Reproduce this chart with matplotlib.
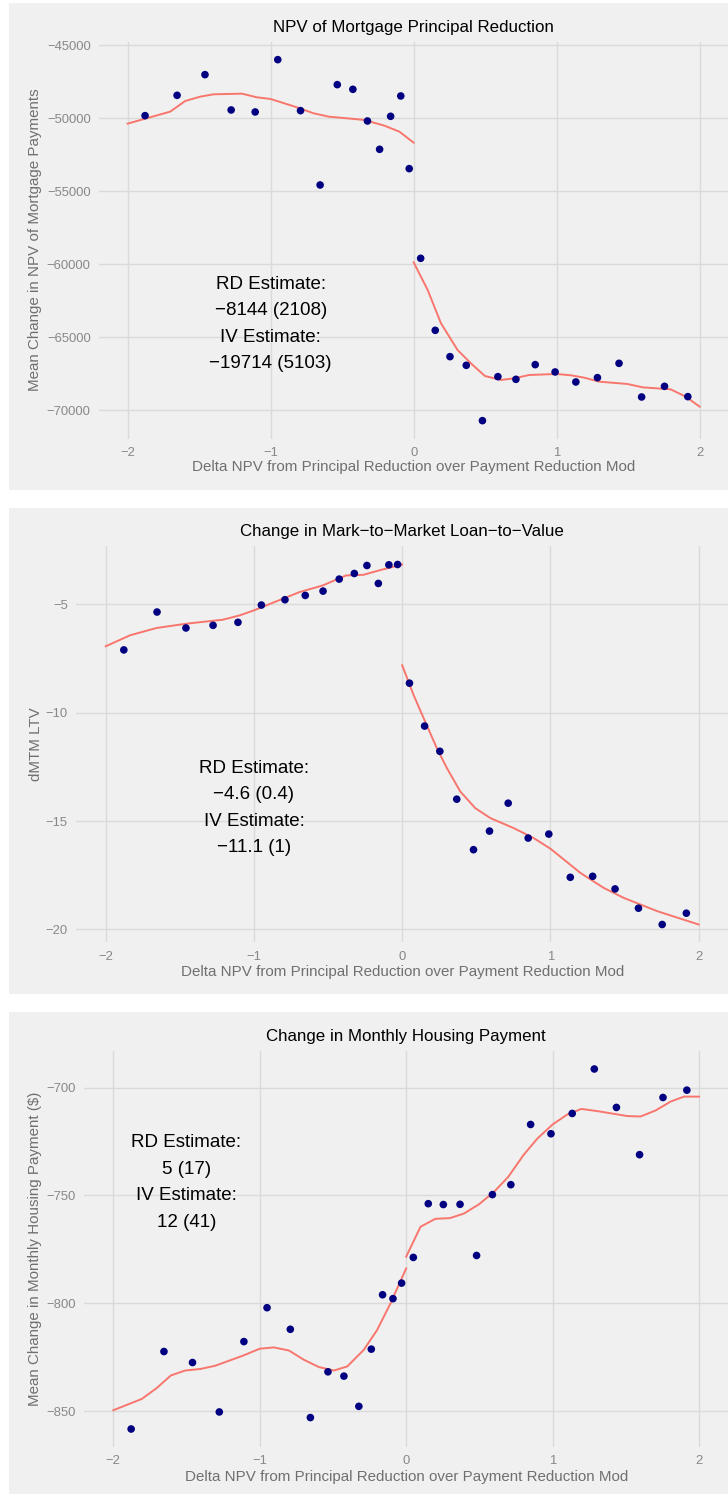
import matplotlib
matplotlib.use("Agg")
import matplotlib.pyplot as plt
from matplotlib.patches import Rectangle

plt.rcParams['font.family'] = ['Liberation Sans', 'DejaVu Sans']

# ---------------- data ----------------
bin_x = [-1.878, -1.654, -1.459, -1.276, -1.108, -0.950, -0.791, -0.654, -0.534, -0.425,
         -0.323, -0.238, -0.161, -0.090, -0.031,
         0.049, 0.151, 0.254, 0.368, 0.481, 0.589, 0.715, 0.850, 0.989, 1.134,
         1.285, 1.436, 1.594, 1.754, 1.917]

npv_y = [-49817, -48425, -47009, -49429, -49566, -45982, -49475, -54566, -47694, -48014,
         -50183, -52123, -49863, -48470, -53447,
         -59589, -64521, -66324, -66918, -70708, -67694, -67877, -66872, -67374, -68059,
         -67763, -66781, -69087, -68356, -69064]
npv_fit_left_x = [-2.0, -1.702, -1.597, -1.492, -1.399, -1.200, -1.096, -1.0, -0.816, -0.699,
                  -0.594, -0.466, -0.345, -0.205, -0.100, 0.0]
npv_fit_left_y = [-50365, -49543, -48813, -48516, -48356, -48311, -48562, -48676, -49247, -49658,
                  -49886, -50000, -50114, -50502, -50913, -51667]
npv_fit_right_x = [0.0, 0.098, 0.191, 0.307, 0.400, 0.498, 0.610, 0.703, 0.808, 1.0, 1.1,
                   1.192, 1.297, 1.495, 1.6, 1.797, 1.902, 2.0]
npv_fit_right_y = [-59863, -61758, -64041, -65868, -66781, -67648, -67922, -67808, -67580, -67511,
                   -67603, -67763, -68037, -68196, -68425, -68562, -69064, -69749]

ltv_y = [-7.101, -5.353, -6.089, -5.966, -5.828, -5.031, -4.785, -4.586, -4.387, -3.834,
         -3.574, -3.206, -4.034, -3.175, -3.160,
         -8.635, -10.614, -11.779, -13.988, -16.319, -15.460, -14.172, -15.782, -15.598, -17.592,
         -17.546, -18.129, -19.018, -19.770, -19.248]
ltv_fit_left_x = [-2.0, -1.836, -1.657, -1.455, -1.209, -1.096, -1.0, -0.872, -0.693, -0.536,
                  -0.379, -0.261, -0.149, 0.0]
ltv_fit_left_y = [-6.933, -6.426, -6.089, -5.890, -5.706, -5.506, -5.276, -4.923, -4.433, -4.126,
                  -3.666, -3.635, -3.420, -3.160]
ltv_fit_right_x = [0.0, 0.077, 0.155, 0.234, 0.302, 0.392, 0.493, 0.595, 0.752, 0.887, 1.0,
                   1.203, 1.360, 1.495, 1.721, 2.0]
ltv_fit_right_y = [-7.807, -9.187, -10.414, -11.641, -12.561, -13.635, -14.402, -14.862, -15.322,
                   -15.782, -16.273, -17.393, -18.083, -18.543, -19.156, -19.770]

pay_y = [-858.2, -822.3, -827.4, -850.3, -817.7, -802.0, -812.0, -852.9, -831.7, -833.7,
         -847.7, -821.2, -796.0, -797.8, -790.6,
         -778.7, -753.8, -754.2, -754.1, -777.8, -749.6, -745.0, -717.1, -721.4, -712.0,
         -691.4, -709.2, -731.1, -704.6, -701.2]
pay_fit_left_x = [-2.0, -1.806, -1.703, -1.607, -1.509, -1.406, -1.304, -1.110, -1.0, -0.904,
                  -0.801, -0.699, -0.596, -0.493, -0.402, -0.289, -0.198, -0.107, 0.0]
pay_fit_left_y = [-849.5, -844.3, -839.2, -833.4, -831.1, -830.4, -828.9, -824.1, -821.0, -820.4,
                  -821.8, -826.1, -829.5, -831.1, -829.2, -821.5, -812.3, -800.0, -783.8]
pay_fit_right_x = [0.0, 0.098, 0.200, 0.298, 0.394, 0.497, 0.599, 0.697, 0.800, 0.895, 1.0,
                   1.100, 1.196, 1.305, 1.510, 1.601, 1.704, 1.806, 1.897, 2.0]
pay_fit_right_y = [-778.4, -764.5, -760.8, -760.5, -758.4, -754.1, -748.4, -741.4, -731.4,
                   -723.7, -717.1, -712.5, -709.9, -710.9, -713.2, -713.4, -710.6, -706.5,
                   -704.2, -704.2]

titles = ["NPV of Mortgage Principal Reduction",
          "Change in Mark\u2212to\u2212Market Loan\u2212to\u2212Value",
          "Change in Monthly Housing Payment"]
ylabels = ["Mean Change in NPV of Mortgage Payments", "dMTM LTV",
           "Mean Change in Monthly Housing Payment ($)"]
xlabel = "Delta NPV from Principal Reduction over Payment Reduction Mod"
annotations = ["RD Estimate:\n\u22128144 (2108)\nIV Estimate:\n\u221219714 (5103)",
               "RD Estimate:\n\u22124.6 (0.4)\nIV Estimate:\n\u221211.1 (1)",
               "RD Estimate:\n5 (17)\nIV Estimate:\n12 (41)"]
annot_x = [-1.0, -1.0, -1.5]
annot_y = [-64100, -14.4, -744.0]
yticks = [[-45000, -50000, -55000, -60000, -65000, -70000],
          [-5, -10, -15, -20],
          [-700, -750, -800, -850]]
xticks = [-2, -1, 0, 1, 2]

series = [
    (npv_y, npv_fit_left_x, npv_fit_left_y, npv_fit_right_x, npv_fit_right_y),
    (ltv_y, ltv_fit_left_x, ltv_fit_left_y, ltv_fit_right_x, ltv_fit_right_y),
    (pay_y, pay_fit_left_x, pay_fit_left_y, pay_fit_right_x, pay_fit_right_y),
]

# ---------------- layout (pixels) ----------------
W, H = 728, 1494
fig = plt.figure(figsize=(W / 100, H / 100), dpi=100)
fig.patch.set_facecolor("white")

BG = "#F0F0F0"
GRID = "#DADADA"
TICKC = "#888888"
LABC = "#707070"

panel_bg = [(9, 3, 490), (9, 508, 994), (9, 1012, 1494)]
axes_px = [(99, 41.6, 728.3, 438.7), (76.1, 546.5, 728.3, 942.5), (84.0, 1051.0, 728.3, 1447.0)]
title_y = [27.5, 531.5, 1036.0]
xlab_y = [467.0, 972.0, 1476.5]
ylab_x = 35.5


def fx(p):
    return p / W


def fy(p):
    return 1 - p / H


for i in range(3):
    x0, t0, b0 = panel_bg[i]
    fig.patches.append(Rectangle((fx(x0), fy(b0)), fx(W - x0), (b0 - t0) / H,
                                 transform=fig.transFigure, facecolor=BG,
                                 edgecolor="none", zorder=-10))
    l, t, r, b = axes_px[i]
    ax = fig.add_axes([fx(l), fy(b), (r - l) / W, (b - t) / H])
    ax.set_zorder(5)
    ax.set_facecolor("none")
    yv, lx, ly, rx, ry = series[i]

    ally = list(yv) + list(ly) + list(ry)
    lo, hi = min(ally), max(ally)
    pad = 0.05 * (hi - lo)
    ax.set_xlim(-2.2, 2.2)
    ax.set_ylim(lo - pad, hi + pad)

    ax.grid(True, color=GRID, linewidth=1.0)
    ax.set_axisbelow(True)
    for s in ax.spines.values():
        s.set_visible(False)
    ax.set_xticks(xticks)
    ax.set_xticklabels([("\u2212" if v < 0 else "") + str(abs(v)) for v in xticks])
    ax.set_yticks(yticks[i])
    ax.set_yticklabels([("\u2212" if v < 0 else "") + str(abs(v)) for v in yticks[i]])
    ax.tick_params(length=0, labelsize=9.4, colors=TICKC, pad=6)

    ax.plot(lx, ly, color="#F8766D", linewidth=1.4, zorder=2)
    ax.plot(rx, ry, color="#F8766D", linewidth=1.4, zorder=2)
    ax.scatter(bin_x, yv, s=30, color="#000080", edgecolors="none", zorder=3)

    ax.text(annot_x[i], annot_y[i], annotations[i], ha="center", va="center",
            multialignment="center", fontsize=13.5, color="black", linespacing=1.72)

    cx = (l + r) / 2
    fig.text(fx(cx), fy(title_y[i]), titles[i], ha="center", va="center",
             fontsize=12.2, color="black")
    fig.text(fx(cx), fy(xlab_y[i]), xlabel, ha="center", va="center",
             fontsize=10.9, color=LABC)
    fig.text(fx(ylab_x), fy((t + b) / 2), ylabels[i], ha="center", va="center",
             rotation=90, fontsize=10.9, color=LABC)

fig.savefig("out.png", dpi=100, facecolor="white")
